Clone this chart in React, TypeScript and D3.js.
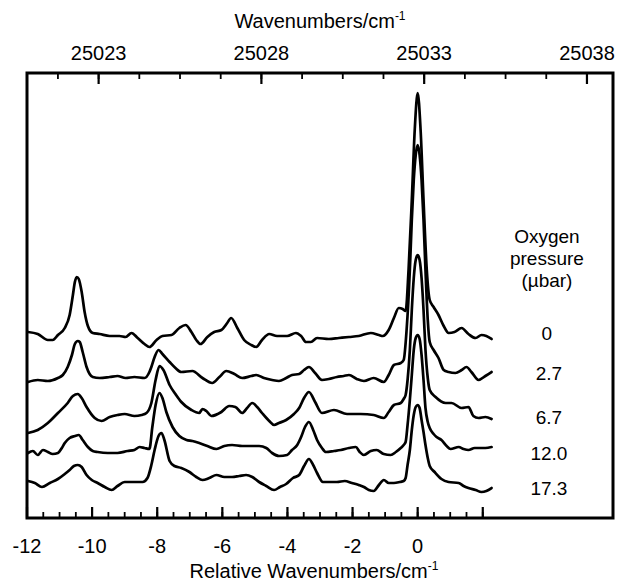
import React from "react";
import * as d3 from "d3";

// Relative wavenumber (cm^-1) vs. intensity (arb. units, already offset per trace)
const trace0: [number, number][] = [
  [-11.97, 18.6], [-11.67, 18.4], [-11.36, 17.8], [-11.21, 17.8], [-11.05, 18.3], [-10.84, 19.0], [-10.69, 20.3],
  [-10.59, 22.3], [-10.53, 23.6], [-10.47, 24.1], [-10.41, 23.9], [-10.32, 22.6], [-10.23, 20.6], [-10.13, 19.2],
  [-9.98, 18.5], [-9.77, 18.4], [-9.46, 18.2], [-9.16, 18.2], [-8.97, 18.1], [-8.79, 18.5], [-8.6, 18.0],
  [-8.39, 17.4], [-8.24, 17.1], [-8.02, 17.8], [-7.84, 18.2], [-7.56, 18.3], [-7.32, 19.0], [-7.13, 19.3],
  [-6.95, 18.6], [-6.8, 17.8], [-6.67, 17.4], [-6.46, 18.1], [-6.25, 18.6], [-6.03, 18.8], [-5.85, 19.5],
  [-5.73, 20.0], [-5.54, 19.0], [-5.33, 17.8], [-5.11, 17.3], [-4.96, 17.1], [-4.78, 17.8], [-4.56, 18.4],
  [-4.32, 18.2], [-4.01, 18.2], [-3.74, 18.5], [-3.58, 18.2], [-3.43, 17.6], [-3.28, 17.6], [-3.09, 18.0],
  [-2.73, 17.9], [-2.42, 18.0], [-2.11, 18.1], [-1.81, 18.2], [-1.44, 18.5], [-1.19, 18.3], [-1.07, 18.2],
  [-0.89, 18.8], [-0.73, 20.0], [-0.58, 21.0], [-0.46, 20.9], [-0.37, 20.7], [-0.28, 24.8], [-0.18, 31.8],
  [-0.09, 38.8], [0, 42.5], [0.09, 38.8], [0.18, 31.8], [0.28, 24.8], [0.37, 21.8], [0.49, 21.1], [0.64, 20.3],
  [0.8, 19.2], [0.95, 18.5], [1.13, 18.6], [1.35, 19.0], [1.56, 18.4], [1.78, 18.0], [1.96, 18.3], [2.11, 18.2],
  [2.27, 17.9],
];

const trace27: [number, number][] = [
  [-11.97, 13.6], [-11.67, 13.8], [-11.36, 13.7], [-11.05, 14.0], [-10.9, 14.3], [-10.75, 15.1], [-10.62, 16.3],
  [-10.53, 17.4], [-10.44, 17.7], [-10.38, 17.6], [-10.29, 16.6], [-10.17, 15.1], [-9.98, 14.1], [-9.77, 14.0],
  [-9.46, 14.1], [-9.22, 14.2], [-8.97, 14.0], [-8.7, 14.1], [-8.39, 14.0], [-8.24, 14.6], [-8.18, 15.1],
  [-8.08, 16.1], [-7.96, 16.8], [-7.84, 16.4], [-7.62, 15.6], [-7.44, 15.0], [-7.26, 14.6], [-6.92, 14.7],
  [-6.61, 14.0], [-6.31, 13.5], [-6.09, 14.1], [-5.88, 14.7], [-5.63, 14.4], [-5.39, 14.0], [-5.11, 14.2],
  [-4.96, 14.3], [-4.72, 14.0], [-4.47, 13.8], [-4.26, 13.7], [-4.04, 14.0], [-3.86, 14.3], [-3.64, 14.4],
  [-3.49, 14.8], [-3.34, 15.1], [-3.15, 14.5], [-2.94, 13.8], [-2.73, 13.9], [-2.48, 14.1], [-2.27, 14.2],
  [-2.11, 14.3], [-1.87, 13.9], [-1.65, 13.7], [-1.35, 14.0], [-1.04, 13.6], [-0.89, 14.3], [-0.73, 15.3],
  [-0.52, 15.5], [-0.43, 15.8], [-0.34, 18.8], [-0.24, 24.8], [-0.18, 29.8], [-0.12, 33.8], [-0.06, 36.3],
  [0, 37.3], [0.06, 36.3], [0.12, 33.8], [0.18, 29.8], [0.24, 24.8], [0.31, 19.8], [0.37, 17.6], [0.49, 16.8],
  [0.64, 16.0], [0.8, 14.8], [0.95, 14.6], [1.16, 14.5], [1.35, 14.8], [1.5, 15.1], [1.65, 14.6], [1.87, 13.8],
  [2.08, 14.2], [2.27, 14.6],
];

const trace67: [number, number][] = [
  [-11.97, 8.5], [-11.67, 8.8], [-11.36, 9.5], [-11.05, 10.5], [-10.75, 11.5], [-10.59, 12.2], [-10.44, 12.4],
  [-10.32, 12.0], [-10.17, 11.1], [-9.92, 10.0], [-9.71, 9.7], [-9.46, 10.1], [-9.22, 10.3], [-9.0, 10.4],
  [-8.7, 10.2], [-8.48, 10.3], [-8.33, 10.5], [-8.18, 11.5], [-8.05, 13.8], [-7.93, 15.2], [-7.81, 14.8],
  [-7.62, 13.3], [-7.44, 12.4], [-7.26, 11.6], [-6.95, 10.8], [-6.71, 10.5], [-6.61, 10.9], [-6.49, 10.7],
  [-6.34, 10.2], [-6.03, 10.6], [-5.79, 11.2], [-5.6, 11.1], [-5.39, 10.5], [-5.24, 11.0], [-5.08, 11.5],
  [-4.93, 11.1], [-4.78, 10.5], [-4.56, 9.7], [-4.41, 9.3], [-4.26, 9.5], [-4.04, 9.8], [-3.8, 10.4],
  [-3.64, 11.0], [-3.49, 12.0], [-3.34, 12.6], [-3.15, 11.6], [-2.94, 10.5], [-2.57, 10.8], [-2.17, 10.4],
  [-1.75, 10.4], [-1.35, 10.3], [-1.04, 10.0], [-0.89, 10.6], [-0.73, 11.3], [-0.52, 11.5], [-0.43, 11.9],
  [-0.37, 12.3], [-0.31, 13.8], [-0.24, 16.8], [-0.18, 20.8], [-0.12, 24.0], [-0.06, 25.8], [0, 26.3],
  [0.06, 25.8], [0.12, 24.0], [0.18, 20.8], [0.24, 16.8], [0.31, 14.0], [0.37, 12.8], [0.55, 12.1],
  [0.86, 11.5], [1.04, 11.5], [1.35, 11.0], [1.56, 11.1], [1.71, 10.2], [1.87, 10.0], [2.08, 10.1], [2.27, 9.9],
];

const trace120: [number, number][] = [
  [-11.97, 6.5], [-11.82, 6.7], [-11.67, 6.3], [-11.51, 6.8], [-11.36, 6.6], [-11.21, 6.4], [-11.05, 6.5],
  [-10.93, 7.0], [-10.84, 7.5], [-10.69, 8.0], [-10.53, 8.2], [-10.41, 8.3], [-10.29, 7.8], [-10.13, 7.1],
  [-9.98, 6.7], [-9.83, 6.6], [-9.52, 6.5], [-9.22, 6.5], [-8.91, 6.7], [-8.7, 6.8], [-8.54, 7.1], [-8.39, 7.0],
  [-8.24, 6.9], [-8.15, 9.1], [-8.05, 11.3], [-7.93, 12.5], [-7.84, 12.0], [-7.72, 10.6], [-7.53, 9.1],
  [-7.32, 8.2], [-7.1, 7.8], [-6.92, 7.7], [-6.71, 7.5], [-6.46, 7.2], [-6.18, 6.9], [-5.94, 7.2], [-5.7, 7.3],
  [-5.39, 7.2], [-5.08, 7.2], [-4.87, 7.2], [-4.65, 7.0], [-4.47, 6.5], [-4.26, 6.2], [-4.01, 6.3], [-3.86, 6.8],
  [-3.7, 7.3], [-3.58, 8.1], [-3.46, 9.1], [-3.34, 9.6], [-3.21, 8.8], [-3.09, 7.8], [-2.94, 7.0], [-2.82, 6.6],
  [-2.57, 6.7], [-2.36, 6.8], [-2.11, 7.0], [-1.9, 7.1], [-1.78, 6.6], [-1.65, 6.3], [-1.44, 6.7], [-1.26, 6.8],
  [-1.04, 6.4], [-0.83, 6.3], [-0.67, 6.6], [-0.52, 7.0], [-0.43, 7.3], [-0.37, 7.6], [-0.31, 9.3],
  [-0.24, 11.8], [-0.18, 14.3], [-0.12, 16.8], [-0.06, 18.0], [0, 18.3], [0.06, 17.9], [0.12, 16.3],
  [0.18, 13.8], [0.24, 11.0], [0.31, 9.6], [0.37, 9.0], [0.49, 8.4], [0.58, 8.1], [0.73, 7.8], [0.89, 7.2],
  [1.01, 6.9], [1.26, 7.1], [1.41, 6.9], [1.56, 6.8], [1.75, 7.0], [1.87, 7.0], [2.08, 7.0], [2.27, 7.1],
];

const trace173: [number, number][] = [
  [-11.97, 3.7], [-11.76, 3.5], [-11.54, 3.1], [-11.3, 3.5], [-11.05, 3.9], [-10.84, 4.4], [-10.69, 4.8],
  [-10.56, 5.2], [-10.44, 5.3], [-10.32, 5.1], [-10.17, 4.3], [-10.01, 3.8], [-9.83, 3.5], [-9.61, 3.1],
  [-9.4, 2.8], [-9.22, 3.2], [-9.0, 3.6], [-8.7, 3.6], [-8.45, 3.6], [-8.3, 4.0], [-8.18, 5.3], [-8.08, 6.8],
  [-7.96, 8.2], [-7.87, 8.5], [-7.78, 7.8], [-7.62, 5.7], [-7.47, 5.2], [-7.26, 5.0], [-7.01, 4.6], [-6.8, 4.1],
  [-6.61, 3.8], [-6.4, 4.0], [-6.18, 4.3], [-5.94, 4.1], [-5.7, 4.1], [-5.48, 4.2], [-5.27, 4.3], [-5.08, 4.1],
  [-4.87, 3.6], [-4.65, 3.2], [-4.41, 2.8], [-4.23, 3.1], [-4.04, 3.4], [-3.83, 4.0], [-3.64, 4.3], [-3.49, 5.2],
  [-3.34, 5.9], [-3.21, 5.3], [-3.09, 4.5], [-2.91, 3.6], [-2.66, 3.6], [-2.48, 3.6], [-2.24, 3.7], [-2.02, 3.5],
  [-1.81, 3.3], [-1.65, 3.1], [-1.5, 2.8], [-1.35, 2.7], [-1.19, 3.3], [-1.04, 3.8], [-0.89, 3.5], [-0.73, 3.5],
  [-0.55, 3.6], [-0.43, 3.7], [-0.37, 4.0], [-0.31, 5.3], [-0.24, 6.8], [-0.18, 8.8], [-0.12, 10.3],
  [-0.06, 11.1], [0, 11.3], [0.06, 11.0], [0.12, 9.8], [0.18, 8.6], [0.24, 7.3], [0.31, 6.0], [0.37, 5.2],
  [0.52, 4.6], [0.73, 3.9], [0.95, 3.6], [1.26, 3.5], [1.41, 3.2], [1.56, 3.0], [1.78, 2.8], [1.96, 2.6],
  [2.11, 2.7], [2.27, 3.0],
];

const traces = [trace0, trace27, trace67, trace120, trace173];
const pressureLabels = ["0", "2.7", "6.7", "12.0", "17.3"];
const labelLevels = [18.5, 14.5, 10.1, 6.5, 3.0];

const bottomMajor = [-12, -10, -8, -6, -4, -2, 0, 2];
const bottomLabeled = [-12, -10, -8, -6, -4, -2, 0];
const bottomMinor = d3.range(-12, 2.001, 0.5);
const topMajor = [25023, 25028, 25033, 25038];
const topMinor = d3.range(25021.75, 25039, 1.25);
const wavenumberAtZero = 25032.8;

const W = 621;
const H = 581;
const left = 27, right = 613, top = 73, bottom = 518;
const FONT = "'Liberation Sans', Arial, Helvetica, sans-serif";

export default function App() {
  const x = d3.scaleLinear().domain([-12, 6]).range([left, right]);
  const xTop = d3.scaleLinear().domain([-12 + wavenumberAtZero, 6 + wavenumberAtZero]).range([left, right]);
  const y = d3.scaleLinear().domain([0, 44.5]).range([bottom, top]);
  const line = d3.line<[number, number]>().x((d) => x(d[0])).y((d) => y(d[1])).curve(d3.curveMonotoneX);
  const majorLen = 11, minorLen = 6;
  const labelX = x(3.97);

  return (
    <svg width={W} height={H} style={{ position: "absolute", left: 0, top: 0, background: "#fff" }} fontFamily={FONT}>
      <rect x={0} y={0} width={W} height={H} fill="#fff" />
      {traces.map((t, i) => (
        <path key={i} d={line(t) || ""} fill="none" stroke="#000" strokeWidth={2.7} strokeLinejoin="round" strokeLinecap="round" />
      ))}
      {/* bottom ticks */}
      {bottomMinor.map((v) => (
        <line key={"bm" + v} x1={x(v)} x2={x(v)} y1={bottom} y2={bottom - minorLen} stroke="#000" strokeWidth={1.8} />
      ))}
      {bottomMajor.map((v) => (
        <line key={"bM" + v} x1={x(v)} x2={x(v)} y1={bottom} y2={bottom - majorLen} stroke="#000" strokeWidth={2.2} />
      ))}
      {bottomLabeled.map((v) => (
        <text key={"bl" + v} x={x(v)} y={553} fontSize={20} textAnchor="middle" fill="#000">{v === 0 ? "0" : "-" + Math.abs(v)}</text>
      ))}
      {/* top ticks */}
      {topMinor.filter((v) => v > xTop.domain()[0] && v < xTop.domain()[1]).map((v) => (
        <line key={"tm" + v} x1={xTop(v)} x2={xTop(v)} y1={top} y2={top + minorLen} stroke="#000" strokeWidth={1.8} />
      ))}
      {topMajor.map((v) => (
        <line key={"tM" + v} x1={xTop(v)} x2={xTop(v)} y1={top} y2={top + majorLen} stroke="#000" strokeWidth={2.2} />
      ))}
      {topMajor.map((v) => (
        <text key={"tl" + v} x={xTop(v)} y={60} fontSize={20} textAnchor="middle" fill="#000">{v}</text>
      ))}
      {/* frame */}
      <rect x={left} y={top} width={right - left} height={bottom - top} fill="none" stroke="#000" strokeWidth={3} />
      {/* axis titles */}
      <text x={(left + right) / 2} y={28} fontSize={20} textAnchor="middle" fill="#000">
        Wavenumbers/cm<tspan fontSize={12} dy={-8}>-1</tspan>
      </text>
      <text x={(left + right) / 2 - 6} y={578} fontSize={20} textAnchor="middle" fill="#000">
        Relative Wavenumbers/cm<tspan fontSize={12} dy={-8}>-1</tspan>
      </text>
      {/* legend heading */}
      <text x={labelX} y={243} fontSize={19} textAnchor="middle" fill="#000">Oxygen</text>
      <text x={labelX} y={265} fontSize={19} textAnchor="middle" fill="#000">pressure</text>
      <text x={labelX} y={287} fontSize={19} textAnchor="middle" fill="#000">(µbar)</text>
      {pressureLabels.map((lab, i) => (
        <text key={lab} x={labelX + (lab.length > 1 ? 2 : 0)} y={y(labelLevels[i])} fontSize={19} textAnchor="middle" dominantBaseline="central" fill="#000">{lab}</text>
      ))}
    </svg>
  );
}
